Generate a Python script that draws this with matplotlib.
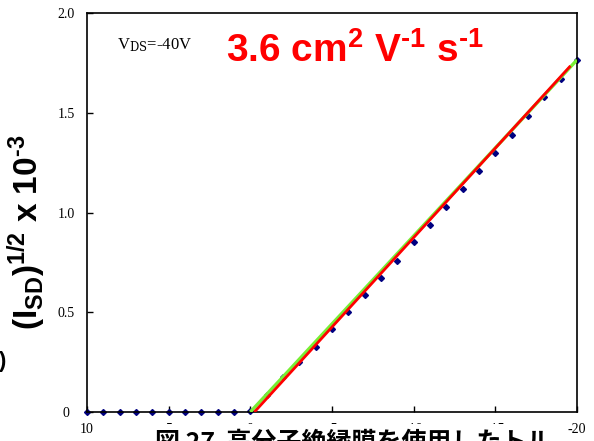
import matplotlib
matplotlib.use("Agg")
import matplotlib.pyplot as plt
from matplotlib.patches import Rectangle

plt.rcParams["mathtext.fontset"] = "custom"
plt.rcParams["mathtext.rm"] = "Liberation Sans:bold"
plt.rcParams["mathtext.bf"] = "Liberation Sans:bold"
plt.rcParams["mathtext.it"] = "Liberation Sans:bold"
plt.rcParams["axes.unicode_minus"] = False

# ---- data ----
vg = [10, 9, 8, 7, 6, 5, 4, 3, 2, 1, 0,
      -1, -2, -3, -4, -5, -6, -7, -8, -9, -10,
      -11, -12, -13, -14, -15, -16, -17, -18, -19, -20]
sqrt_isd = [0, 0, 0, 0, 0, 0, 0, 0, 0, 0, 0.005,
            0.085, 0.175, 0.25, 0.326, 0.416, 0.501, 0.586, 0.672, 0.757, 0.852,
            0.937, 1.028, 1.118, 1.208, 1.298, 1.388, 1.484, 1.579, 1.669, 1.764]
fit_green_x = [0, -20]
fit_green_y = [0, 1.765]
fit_red_x = [-0.25, -19.6]
fit_red_y = [0, 1.735]
xticks = [10, 5, 0, -5, -10, -15, -20]
xticklabels = ["10", "5", "0", "-5", "-10", "-15", "-20"]
yticks = [0, 0.5, 1.0, 1.5, 2.0]
yticklabels = ["0", "0.5", "1.0", "1.5", "2.0"]

W, H = 594, 441
fig = plt.figure(figsize=(W / 100, H / 100), dpi=100)
ax = fig.add_axes([87 / W, (H - 412) / H, (577 - 87) / W, (412 - 13) / H])

ax.plot(vg, sqrt_isd, linestyle="none", marker="D", markersize=3,
        color="#000080", zorder=2, clip_on=False)
ax.plot(fit_green_x, fit_green_y, color="#77ee33", lw=2.4, zorder=3,
        solid_capstyle="butt")
ax.plot(fit_red_x, fit_red_y, color="#ff0000", lw=2.0, zorder=4,
        solid_capstyle="butt")

ax.set_xlim(10, -20)
ax.set_ylim(0, 2.0)
ax.set_xticks(xticks)
ax.set_yticks(yticks)
serif = "Liberation Serif"
ax.set_xticklabels(xticklabels, fontfamily=serif, fontsize=10)
ax.set_yticklabels(yticklabels, fontfamily=serif, fontsize=10, ha="center")
ax.tick_params(axis="x", direction="in", length=4, width=1, pad=8)
ax.tick_params(axis="y", direction="in", length=4, width=1, pad=15)
for s in ax.spines.values():
    s.set_linewidth(1.2)

ax.set_ylabel(r"(I$_{\text{SD}}$)$^{\text{1/2}}$ x 10$^{\text{-3}}$",
              fontfamily="Liberation Sans", fontweight="bold", fontsize=24)
ax.yaxis.set_label_coords(-(87 - 48) / (577 - 87), 0.45)

fig.text(117 / W, (H - 45) / H, "V$_{\\rm DS}$=-40V", fontfamily=serif,
         fontsize=12, va="center", ha="left", math_fontfamily="dejavuserif")
fig.text(226 / W, (H - 51) / H,
         r"3.6 cm$^{\text{2}}$ V$^{\text{-1}}$ s$^{\text{-1}}$",
         fontfamily="Liberation Sans", fontweight="bold", fontsize=28,
         color="#ff0000", va="center", ha="left")

# caption partly cut off at bottom
fig.patches.append(Rectangle((150 / W, 0), (550 - 150) / W, (H - 424) / H,
                             transform=fig.transFigure, facecolor="white",
                             edgecolor="none", zorder=5))
fig.text(155 / W, (H - 431) / H, "図 27  高分子絶縁膜を使用したトル",
         fontfamily=["Noto Sans CJK JP", "DejaVu Sans"], fontweight="bold",
         fontsize=18, va="top", ha="left", zorder=6)
fig.text(-0.004, (H - 362) / H, ")", fontfamily="Liberation Sans",
         fontweight="bold", fontsize=16, va="center", ha="left")

fig.savefig("out.png", dpi=100)
